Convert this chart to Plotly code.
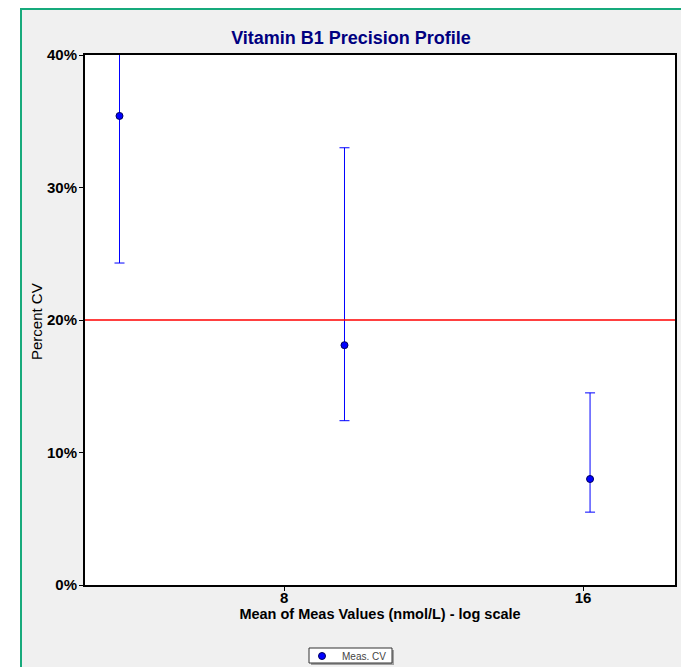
import plotly.graph_objects as go
import math

# Precision profile data
mean_values = [5.46, 9.2, 16.26]          # nmol/L
cv_percent = [35.4, 18.1, 8.0]            # %
cv_upper = [48.0, 33.0, 14.5]             # upper confidence limit, %
cv_lower = [24.3, 12.4, 5.5]              # lower confidence limit, %
goal_cv = 20.0

x_tick_vals = [8, 16]
y_tick_vals = [0, 10, 20, 30, 40]
y_tick_text = ["0%", "10%", "20%", "30%", "40%"]

err_plus = [u - c for u, c in zip(cv_upper, cv_percent)]
err_minus = [c - l for c, l in zip(cv_percent, cv_lower)]

FONT = "Liberation Sans, Arial, sans-serif"

fig = go.Figure()
fig.add_trace(go.Scatter(
    x=mean_values, y=cv_percent, mode="markers", name="Meas. CV",
    marker=dict(color="#0000ff", size=7, line=dict(color="#00005a", width=1)),
    error_y=dict(type="data", array=err_plus, arrayminus=err_minus,
                 color="#0000ff", thickness=1, width=5, symmetric=False),
    cliponaxis=True,
))

W, H = 681, 667
L, R, T, B = 85, 6, 55, 82
pw, ph = W - L - R, H - T - B

def px(xp):
    return (xp - L) / pw

def py(yp):
    return (H - B - yp) / ph

green = "#17aa7c"
shapes = [
    # goal line
    dict(type="line", xref="paper", yref="y", x0=0, x1=1, y0=goal_cv, y1=goal_cv,
         line=dict(color="#ff0000", width=1.5), layer="above"),
    # white margins outside the frame
    dict(type="rect", xref="paper", yref="paper", x0=px(-5), x1=px(20), y0=py(-5), y1=py(H + 5),
         fillcolor="white", line=dict(width=0), layer="below"),
    dict(type="rect", xref="paper", yref="paper", x0=px(-5), x1=px(W + 5), y0=py(-5), y1=py(8),
         fillcolor="white", line=dict(width=0), layer="below"),
    # green frame
    dict(type="line", xref="paper", yref="paper", x0=px(21), x1=px(21), y0=py(8), y1=py(H + 5),
         line=dict(color=green, width=2), layer="below"),
    dict(type="line", xref="paper", yref="paper", x0=px(20), x1=px(W + 5), y0=py(9), y1=py(9),
         line=dict(color=green, width=2), layer="below"),
    # legend box with drop shadow
    dict(type="rect", xref="paper", yref="paper", x0=px(311), x1=px(394), y0=py(650), y1=py(665),
         fillcolor="#a0a0a0", line=dict(width=0), layer="above"),
    dict(type="rect", xref="paper", yref="paper", x0=px(309), x1=px(392), y0=py(648), y1=py(663),
         fillcolor="white", line=dict(color="#333333", width=1), layer="above"),
]

annotations = [
    dict(text="Percent CV", xref="paper", yref="paper", x=px(36), y=py(322),
         xanchor="center", yanchor="middle", textangle=-90, showarrow=False,
         font=dict(size=15, family=FONT, color="black")),
]

fig.update_layout(
    width=W, height=H,
    margin=dict(l=L, r=R, t=T, b=B, autoexpand=False),
    paper_bgcolor="#f0f0f0", plot_bgcolor="white",
    font=dict(family=FONT, color="black"),
    title=dict(text="<b>Vitamin B1 Precision Profile</b>", xref="container", x=351 / W,
               xanchor="center", yref="container", y=1 - 38 / H, yanchor="middle",
               font=dict(size=18, color="#000080", family=FONT)),
    shapes=shapes,
    annotations=annotations,
    showlegend=True,
    legend=dict(orientation="h", x=px(347), xanchor="center", y=py(656), yanchor="middle",
                bgcolor="rgba(0,0,0,0)", borderwidth=0,
                itemwidth=30, tracegroupgap=0,
                font=dict(size=10, color="#444444", family=FONT)),
    xaxis=dict(type="log", range=[math.log10(5.04), math.log10(19.8)],
               tickvals=x_tick_vals, ticktext=[f"<b>{v}</b>" for v in x_tick_vals],
               ticks="outside", ticklen=4, tickcolor="black", tickwidth=1,
               ticklabelstandoff=-6,
               showgrid=False, zeroline=False,
               showline=True, mirror=True, linecolor="black", linewidth=2,
               tickfont=dict(size=15, family=FONT),
               title=dict(text="<b>Mean of Meas Values (nmol/L) - log scale</b>",
                          font=dict(size=14.5, family=FONT), standoff=2)),
    yaxis=dict(range=[0, 40], tickvals=y_tick_vals,
               ticktext=[f"<b>{t}</b>" for t in y_tick_text],
               ticks="outside", ticklen=4, tickcolor="black", tickwidth=1,
               ticklabelstandoff=-1,
               showgrid=False, zeroline=False,
               showline=True, mirror=True, linecolor="black", linewidth=2,
               tickfont=dict(size=15, family=FONT)),
)

fig.write_html("out.html")
